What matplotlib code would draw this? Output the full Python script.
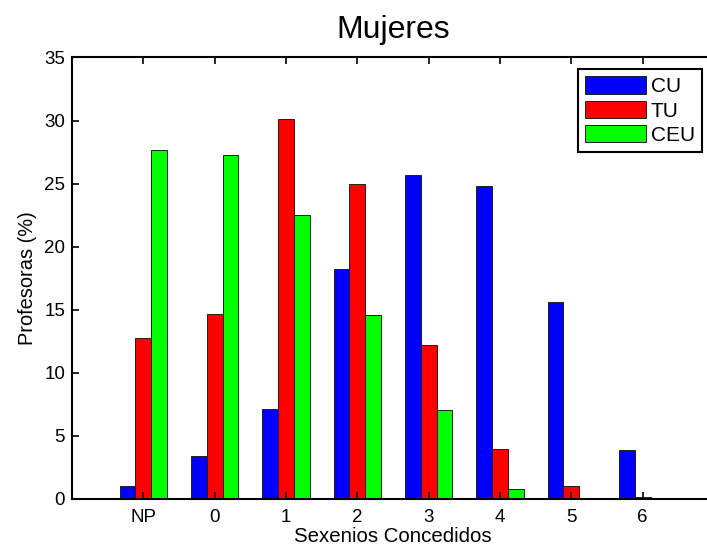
import numpy as np
import matplotlib.pyplot as plt

plt.rcParams['font.family'] = ['Liberation Sans', 'DejaVu Sans']

categories = ['NP', '0', '1', '2', '3', '4', '5', '6']
cu = [1.05, 3.4, 7.1, 18.25, 25.7, 24.8, 15.65, 3.9]
tu = [12.75, 14.7, 30.15, 24.95, 12.2, 4.0, 1.0, 0.13]
ceu = [27.65, 27.3, 22.5, 14.6, 7.05, 0.8, 0.0, 0.0]
series_names = ['CU', 'TU', 'CEU']

fig = plt.figure(figsize=(7.07, 5.51), dpi=100)
ax = fig.add_axes([0.1018, 0.0944, 0.9081, 0.8013])

x = np.arange(1, len(categories) + 1)
w = 0.222
colors = ['#0000ff', '#ff0000', '#00ff00']
for i, (vals, name) in enumerate(zip([cu, tu, ceu], series_names)):
    ax.bar(x + (i - 1) * w, vals, width=w, color=colors[i], edgecolor='#202020',
           linewidth=0.7, label=name)

ax.set_xlim(0, 9)
ax.set_ylim(0, 35)
ax.set_xticks(x)
ax.set_xticklabels(categories)
ax.set_yticks(np.arange(0, 36, 5))
ax.tick_params(direction='in', length=5, width=1.2, top=True, right=True,
               labelsize=13.5)
ax.tick_params(axis='x', pad=7)
ax.tick_params(axis='y', pad=5)
for s in ax.spines.values():
    s.set_linewidth(1.5)

ax.set_title('Mujeres', fontsize=23, pad=14)
ax.set_xlabel('Sexenios Concedidos', fontsize=14.7, labelpad=1)
ax.set_ylabel('Profesoras (%)', fontsize=14.4, labelpad=5)

leg = ax.legend(loc='upper right', bbox_to_anchor=(702 / 707, 1 - 69 / 551),
                bbox_transform=fig.transFigure, fontsize=15, handlelength=2.95,
                handleheight=0.9, labelspacing=0.22, handletextpad=0.2,
                borderpad=0.35, borderaxespad=0, fancybox=False, framealpha=1)
leg.get_frame().set_edgecolor('black')
leg.get_frame().set_linewidth(1.5)

fig.savefig('out.png', dpi=100)
